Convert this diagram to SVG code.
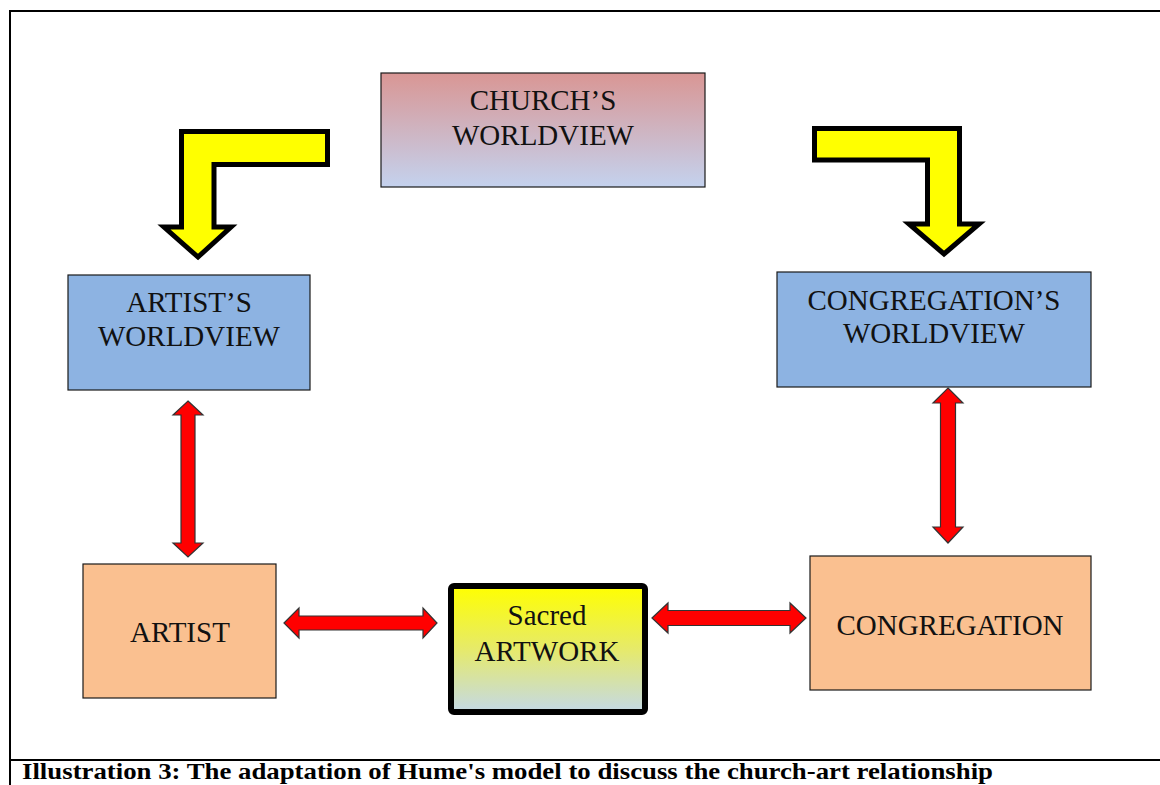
<svg xmlns="http://www.w3.org/2000/svg" width="1160" height="785" viewBox="0 0 1160 785">
  <defs>
    <linearGradient id="gChurch" x1="0" y1="0" x2="0" y2="1">
      <stop offset="0" stop-color="#d99694"/>
      <stop offset="1" stop-color="#c4d2ee"/>
    </linearGradient>
    <linearGradient id="gArtwork" x1="0" y1="0" x2="0" y2="1">
      <stop offset="0" stop-color="#ffff00"/>
      <stop offset="0.5" stop-color="#e6ea6a"/>
      <stop offset="1" stop-color="#c4d9e6"/>
    </linearGradient>
    <style>
      .frame { fill: none; stroke: #000; stroke-width: 2; }
      .box { stroke: #1a1a1a; stroke-width: 1.2; }
      .blue { fill: #8db3e2; }
      .peach { fill: #fac090; }
      .lbl { font-family: "Liberation Serif", "Times New Roman", serif; font-size: 29px; fill: #111; text-anchor: middle; }
      .cap { font-family: "Liberation Serif", "Times New Roman", serif; font-size: 24px; font-weight: bold; fill: #000; }
      .bend { fill: #ffff00; stroke: #000; stroke-width: 5; stroke-linejoin: miter; }
      .dbl { fill: #ff0000; stroke: #333; stroke-width: 1.2; stroke-linejoin: miter; }
    </style>
  </defs>

  <!-- page frame -->
  <g id="frame">
    <polyline class="frame" points="10,785 10,11 1162,11"/>
    <line class="frame" x1="10" y1="760" x2="1162" y2="760"/>
  </g>

  <!-- nodes -->
  <g id="church">
    <rect class="box" x="381" y="73" width="324" height="114" fill="url(#gChurch)"/>
    <text class="lbl" x="543" y="110">CHURCH’S</text>
    <text class="lbl" x="543" y="145">WORLDVIEW</text>
  </g>

  <g id="artist-worldview">
    <rect class="box blue" x="68" y="275" width="242" height="115"/>
    <text class="lbl" x="189" y="312">ARTIST’S</text>
    <text class="lbl" x="189" y="346">WORLDVIEW</text>
  </g>

  <g id="congregation-worldview">
    <rect class="box blue" x="777" y="272" width="314" height="115"/>
    <text class="lbl" x="934" y="310">CONGREGATION’S</text>
    <text class="lbl" x="934" y="343">WORLDVIEW</text>
  </g>

  <g id="artist">
    <rect class="box peach" x="83" y="564" width="193" height="134"/>
    <text class="lbl" x="180" y="642">ARTIST</text>
  </g>

  <g id="congregation">
    <rect class="box peach" x="810" y="556" width="281" height="134"/>
    <text class="lbl" x="950" y="635">CONGREGATION</text>
  </g>

  <g id="artwork">
    <rect x="451" y="586" width="194" height="126" rx="3" fill="url(#gArtwork)" stroke="#000" stroke-width="6"/>
    <text class="lbl" x="547" y="625">Sacred</text>
    <text class="lbl" x="547" y="661">ARTWORK</text>
  </g>

  <!-- connectors -->
  <g id="connectors">
    <!-- bent arrows from the church's worldview -->
    <path class="bend" d="M327.5,131.5 H181.5 V227 H164 L198,257 L231,227 H214 V164.5 H327.5 Z"/>
    <path class="bend" d="M814.5,128.5 H959.5 V224 H979 L944,254 L909,224 H927.5 V160 H814.5 Z"/>

    <!-- two-way arrows -->
    <path class="dbl" d="M188,401 L203,415 H195 V543 H203 L188,557 L173,543 H181 V415 H173 Z"/>
    <path class="dbl" d="M948,388 L963,403 H955.5 V527 H963 L948,543 L933,527 H940.5 V403 H933 Z"/>
    <path class="dbl" d="M284,623 L299,608 V616 H423 V608 L437,623 L423,638 V630 H299 V638 Z"/>
    <path class="dbl" d="M652,618 L668,603 V610.5 H790 V603 L806,618 L790,633 V625.5 H668 V633 Z"/>
  </g>

  <!-- caption -->
  <text class="cap" x="22" y="779" textLength="971" lengthAdjust="spacingAndGlyphs">Illustration 3: The adaptation of Hume's model to discuss the church-art relationship</text>
</svg>
